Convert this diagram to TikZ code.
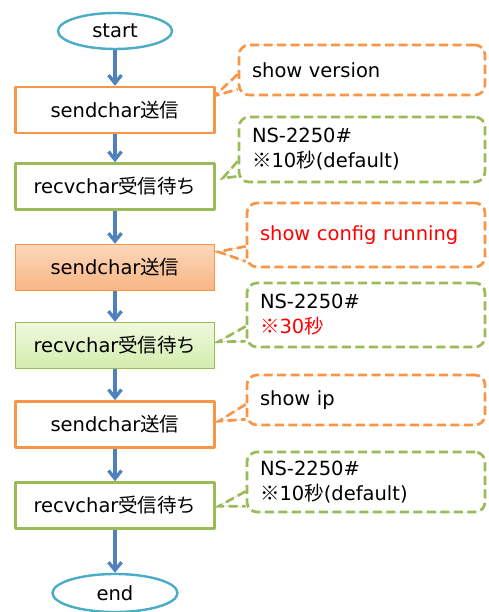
\documentclass[tikz,border=0pt]{standalone}
\usepackage{fontspec}
\setmainfont{DejaVu Sans}
\newfontfamily\jpfont{Noto Sans CJK JP}
\usetikzlibrary{arrows.meta,backgrounds,shapes.geometric}
\definecolor{flowblue}{HTML}{4F81BD}
\definecolor{termcyan}{HTML}{4BACC6}
\definecolor{sendorange}{HTML}{F79646}
\definecolor{recvgreen}{HTML}{9BBB59}
\definecolor{sendtop}{HTML}{FCD8BC}
\definecolor{sendbottom}{HTML}{F9B583}
\definecolor{recvtop}{HTML}{EFF9DE}
\definecolor{recvbottom}{HTML}{D3ECAC}
\newcommand{\ja}[1]{{\jpfont #1}}
\begin{document}
\begin{tikzpicture}[x=1pt,y=-1pt,line join=round,>={Straight Barb[length=8pt,width=13pt]}]
	\tikzset{every node/.style={font=\fontsize{19.5}{25}\selectfont},
		term/.style={ellipse,draw=termcyan,line width=2.4pt,fill=white,inner sep=0pt,minimum height=36pt},
		sendbox/.style={draw=sendorange,line width=2.6pt,fill=white,minimum width=199pt,minimum height=46pt,inner sep=0pt},
		recvbox/.style={sendbox,draw=recvgreen},
		note/.style={rounded corners=10pt,fill=white,align=left,inner xsep=13pt,inner ysep=0pt,
			dash pattern=on 9pt off 4.5pt,line width=2.7pt,preaction={draw=gray!35,line width=0.5pt,solid}},
		wedge/.style={dash pattern=on 9pt off 4.5pt,line width=2.7pt,preaction={draw=gray!35,line width=0.5pt,solid}},
		flow/.style={draw=flowblue,line width=3.3pt,->}}
	\useasboundingbox (0,0) rectangle (489,612);
	% flow
	\node[term,minimum width=114pt] (st) at (115,31) {start};
	\node[sendbox] (s1) at (115,110) {sendchar\ja{送信}};
	\node[recvbox] (r1) at (115,186.5) {recvchar\ja{受信待ち}};
	\node[sendbox,line width=1.4pt,top color=sendtop,bottom color=sendbottom] (s2) at (115,267.5) {sendchar\ja{送信}};
	\node[recvbox,line width=1.4pt,top color=recvtop,bottom color=recvbottom] (r2) at (115,345.5) {recvchar\ja{受信待ち}};
	\node[sendbox] (s3) at (115,424.5) {sendchar\ja{送信}};
	\node[recvbox] (r3) at (115,505.5) {recvchar\ja{受信待ち}};
	\node[term,minimum width=125pt,minimum height=38pt] (en) at (115,593) {end};
	\foreach \from/\to in {st/s1,s1/r1,r1/s2,s2/r2,r2/s3,s3/r3,r3/en}
		\draw[flow] (\from) -- (\to);
	% callouts
	\node[note,draw=sendorange,text width=220pt,minimum height=50pt] (c1) at (362,70) {show version};
	\node[note,draw=recvgreen,text width=220pt,minimum height=65pt] (c2) at (362,149.5) {NS-2250\#\\\ja{※}10\ja{秒}(default)};
	\node[note,draw=sendorange,text width=212pt,minimum height=64pt,text=red] (c3) at (366,235) {show config running};
	\node[note,draw=recvgreen,text width=212pt,minimum height=64pt] (c4) at (366,315) {NS-2250\#\\\textcolor{red}{\ja{※}30\ja{秒}}};
	\node[note,draw=sendorange,text width=212pt,minimum height=50pt] (c5) at (366,400) {show ip};
	\node[note,draw=recvgreen,text width=212pt,minimum height=60pt] (c6) at (366,482) {NS-2250\#\\\ja{※}10\ja{秒}(default)};
	\begin{pgfonlayer}{background}
		\draw[wedge,draw=sendorange] ([yshift=22pt]c1.south west) -- ([shift={(-1pt,-10pt)}]s1.north east) -- ([yshift=7pt]c1.south west);
		\draw[wedge,draw=recvgreen] ([yshift=22pt]c2.south west) -- ([shift={(7pt,-16pt)}]r1.north east) -- ([yshift=7pt]c2.south west);
		\draw[wedge,draw=sendorange] ([yshift=22pt]c3.south west) -- ([shift={(3pt,-8pt)}]s2.north east) -- ([yshift=7pt]c3.south west);
		\draw[wedge,draw=recvgreen] ([yshift=22pt]c4.south west) -- ([shift={(3pt,-20pt)}]r2.north east) -- ([yshift=7pt]c4.south west);
		\draw[wedge,draw=sendorange] ([yshift=22pt]c5.south west) -- ([shift={(3pt,-21pt)}]s3.north east) -- ([yshift=7pt]c5.south west);
		\draw[wedge,draw=recvgreen] ([yshift=22pt]c6.south west) -- ([shift={(3pt,-25pt)}]r3.north east) -- ([yshift=7pt]c6.south west);
	\end{pgfonlayer}
\end{tikzpicture}
\end{document}
